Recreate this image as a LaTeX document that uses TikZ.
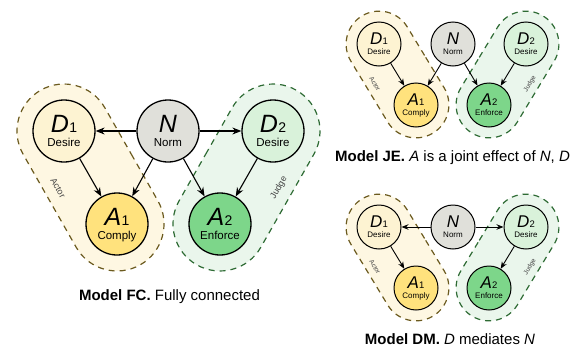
\documentclass[tikz,border=0pt]{standalone}
\usepackage{fontspec}
\setmainfont{Liberation Sans}
\usetikzlibrary{arrows.meta,shapes.misc}
\definecolor{actfill}{HTML}{FEF7E2}
\definecolor{actedge}{HTML}{6B5A1E}
\definecolor{judfill}{HTML}{EAF6EC}
\definecolor{judedge}{HTML}{2E6B34}
\definecolor{dafill}{HTML}{FDF3D2}
\definecolor{aafill}{HTML}{FFE27D}
\definecolor{nfill}{HTML}{E0E0DA}
\definecolor{djfill}{HTML}{D9F2DA}
\definecolor{ajfill}{HTML}{7DD68A}
\definecolor{lblgray}{HTML}{444444}
\tikzset{
  bigvar/.style={circle,draw=black,line width=1.3pt,minimum size=62pt,inner sep=0pt},
  smallvar/.style={circle,draw=black,line width=1pt,minimum size=44pt,inner sep=0pt},
  region/.style={rounded rectangle,dashed,dash pattern=on 6pt off 5pt,line width=1.2pt,inner sep=0pt},
  bigarr/.style={-{Stealth[length=9pt,width=7pt]},line width=1.1pt},
  smallarr/.style={-{Stealth[length=7pt,width=5.5pt]},line width=0.9pt},
  biglet/.style={anchor=base,inner sep=0pt,font=\fontsize{25}{25}\selectfont},
  bigsub/.style={anchor=base,inner sep=0pt,font=\fontsize{11.5}{12}\selectfont},
  smalllet/.style={anchor=base,inner sep=0pt,font=\fontsize{17}{17}\selectfont},
  smallsub/.style={anchor=base,inner sep=0pt,font=\fontsize{8}{9}\selectfont},
  biglbl/.style={inner sep=0pt,font=\fontsize{9}{9}\selectfont,text=lblgray},
  smalllbl/.style={inner sep=0pt,font=\fontsize{6.5}{6.5}\selectfont,text=lblgray},
  caption/.style={anchor=base,inner sep=0pt,font=\fontsize{15}{16}\selectfont},
}
\newcommand{\BigV}[2]{\textit{#1}\kern0.5pt{\fontsize{14}{14}\selectfont #2}}
\newcommand{\SmallV}[2]{\textit{#1}\kern0.3pt{\fontsize{9.5}{10}\selectfont #2}}
\begin{document}
\begin{tikzpicture}[x=1pt,y=-1pt]
\useasboundingbox (0,0) rectangle (581,351);
% ---------- Model FC ----------
\node[region,fill=actfill,draw=actedge,minimum width=201pt,minimum height=94pt,rotate=-60.3] (fcact) at (90.5,177.5) {};
\node[region,fill=judfill,draw=judedge,minimum width=201pt,minimum height=94pt,rotate=60.3] (fcjud) at (246.5,177.5) {};
\node[biglbl,rotate=-60.3] (fcactl) at (58,188) {Actor};
\node[biglbl,rotate=60.3] (fcjudl) at (279,188) {Judge};
\node[bigvar,fill=dafill] (fd1) at (64,131) {};
\node[bigvar,fill=nfill] (fn) at (168,131) {};
\node[bigvar,fill=djfill] (fd2) at (273,131) {};
\node[bigvar,fill=aafill] (fa1) at (117,224) {};
\node[bigvar,fill=ajfill] (fa2) at (220,224) {};
\foreach \n/\l/\s/\t in {fd1/D/1/Desire,fd2/D/2/Desire,fa1/A/1/Comply,fa2/A/2/Enforce}{
  \node[biglet] at ([yshift=-1pt]\n.center) {\BigV{\l}{\s}};
  \node[bigsub] at ([yshift=-15pt]\n.center) {\t};
}
\node[biglet] at ([yshift=-1pt]fn.center) {\textit{N}};
\node[bigsub] at ([yshift=-15pt]fn.center) {Norm};
\draw[bigarr] (fn) -- (fd1);
\draw[bigarr] (fn) -- (fd2);
\draw[bigarr] (fd1) -- (fa1);
\draw[bigarr] (fn) -- (fa1);
\draw[bigarr] (fn) -- (fa2);
\draw[bigarr] (fd2) -- (fa2);
\node[caption] (fccap) at (169.5,300) {\textbf{Model FC.} Fully connected};
% ---------- Model JE ----------
\node[region,fill=actfill,draw=actedge,minimum width=137pt,minimum height=66pt,rotate=-58.8] (jeact) at (397.5,74.5) {};
\node[region,fill=judfill,draw=judedge,minimum width=137pt,minimum height=66pt,rotate=58.8] (jejud) at (507.5,74.5) {};
\node[smalllbl,rotate=-58.8] (jeactl) at (375,84) {Actor};
\node[smalllbl,rotate=58.8] (jejudl) at (530,84) {Judge};
\node[smallvar,fill=dafill] (jd1) at (379,44) {};
\node[smallvar,fill=nfill] (jn) at (453,44) {};
\node[smallvar,fill=djfill] (jd2) at (526,44) {};
\node[smallvar,fill=aafill] (ja1) at (416,105) {};
\node[smallvar,fill=ajfill] (ja2) at (489,105) {};
\foreach \n/\l/\s/\t in {jd1/D/1/Desire,jd2/D/2/Desire,ja1/A/1/Comply,ja2/A/2/Enforce}{
  \node[smalllet] at ([yshift=-0.5pt]\n.center) {\SmallV{\l}{\s}};
  \node[smallsub] at ([yshift=-10pt]\n.center) {\t};
}
\node[smalllet] at ([yshift=-0.5pt]jn.center) {\textit{N}};
\node[smallsub] at ([yshift=-10pt]jn.center) {Norm};
\draw[smallarr] (jd1) -- (ja1);
\draw[smallarr] (jn) -- (ja1);
\draw[smallarr] (jn) -- (ja2);
\draw[smallarr] (jd2) -- (ja2);
\node[caption] (jecap) at (452.5,161) {\textbf{Model JE.} \textit{A} is a joint effect of \textit{N}, \textit{D}};
% ---------- Model DM ----------
\node[region,fill=actfill,draw=actedge,minimum width=137pt,minimum height=66pt,rotate=-58.8] (dmact) at (397.5,257.5) {};
\node[region,fill=judfill,draw=judedge,minimum width=137pt,minimum height=66pt,rotate=58.8] (dmjud) at (507.5,257.5) {};
\node[smalllbl,rotate=-58.8] (dmactl) at (375,267) {Actor};
\node[smalllbl,rotate=58.8] (dmjudl) at (530,267) {Judge};
\node[smallvar,fill=dafill] (dd1) at (379,227) {};
\node[smallvar,fill=nfill] (dn) at (453,227) {};
\node[smallvar,fill=djfill] (dd2) at (526,227) {};
\node[smallvar,fill=aafill] (da1) at (416,288) {};
\node[smallvar,fill=ajfill] (da2) at (489,288) {};
\foreach \n/\l/\s/\t in {dd1/D/1/Desire,dd2/D/2/Desire,da1/A/1/Comply,da2/A/2/Enforce}{
  \node[smalllet] at ([yshift=-0.5pt]\n.center) {\SmallV{\l}{\s}};
  \node[smallsub] at ([yshift=-10pt]\n.center) {\t};
}
\node[smalllet] at ([yshift=-0.5pt]dn.center) {\textit{N}};
\node[smallsub] at ([yshift=-10pt]dn.center) {Norm};
\draw[smallarr] (dn) -- (dd1);
\draw[smallarr] (dn) -- (dd2);
\draw[smallarr] (dd1) -- (da1);
\draw[smallarr] (dd2) -- (da2);
\node[caption] (dmcap) at (450,344) {\textbf{Model DM.} \textit{D} mediates \textit{N}};
\end{tikzpicture}
\end{document}
